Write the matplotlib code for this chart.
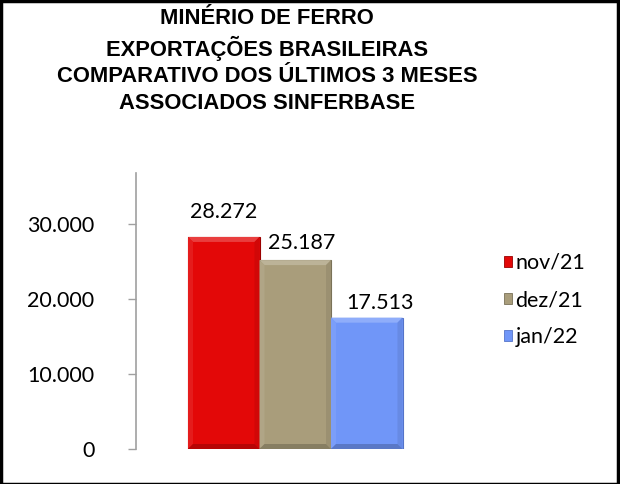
import numpy as np
import matplotlib.pyplot as plt
from matplotlib.patches import Patch, Rectangle, Polygon
from matplotlib.colors import to_rgb

# Data
months = ["nov/21", "dez/21", "jan/22"]
values = [28272, 25187, 17513]
value_labels = ["28.272", "25.187", "17.513"]
colors = ["#E30808", "#A99D7B", "#7096F8"]
edge_colors = ["#9A0000", "#7A7258", "#5574C8"]
yticks = [0, 10000, 20000, 30000]
ytick_labels = ["0", "10.000", "20.000", "30.000"]

title = ("MINÉRIO DE FERRO\nEXPORTAÇÕES BRASILEIRAS\n"
         "COMPARATIVO DOS ÚLTIMOS 3 MESES\nASSOCIADOS SINFERBASE")


def shade(c, f):
    r = np.array(to_rgb(c))
    if f > 0:
        return tuple(r + (1 - r) * f)
    return tuple(r * (1 + f))


W, H = 620, 484
fig = plt.figure(figsize=(W / 100, H / 100), dpi=100)

# axes placed in pixel terms
ax_left, ax_right, ax_bottom, ax_top = 136, 470, 449, 173
ax = fig.add_axes([ax_left / W, (H - ax_bottom) / H,
                   (ax_right - ax_left) / W, (ax_bottom - ax_top) / H])

bar_w = 71.5  # px per bar
ymax = 36800
x = np.arange(len(values))
x0 = -0.5 - (188 - ax_left) / bar_w
ax.set_xlim(x0, x0 + (ax_right - ax_left) / bar_w)
ax.set_ylim(0, ymax)

bars = ax.bar(x, values, width=1.0, color=colors, edgecolor=edge_colors, linewidth=0.8, zorder=2)

# bevel look: light top/left, dark bottom/right (kept subtle)
bx = 5 / bar_w
by = 5 * ymax / (ax_bottom - ax_top)
for b, c in zip(bars, colors):
    l, r = b.get_x(), b.get_x() + b.get_width()
    t = b.get_height()
    faces = [
        ([(l, t), (r, t), (r - bx, t - by), (l + bx, t - by)], 0.22),
        ([(l, 0), (l, t), (l + bx, t - by), (l + bx, by)], 0.08),
        ([(r, 0), (r, t), (r - bx, t - by), (r - bx, by)], -0.08),
        ([(l, 0), (r, 0), (r - bx, by), (l + bx, by)], -0.2),
    ]
    for pts, f in faces:
        ax.add_patch(Polygon(pts, closed=True, facecolor=shade(c, f), edgecolor="none", zorder=3))

# small label offsets (px) as in the original
label_dx = [0, 6, 13]
label_dy = [25, 17, 15]
for xi, v, lab, dx, dy in zip(x, values, value_labels, label_dx, label_dy):
    ax.annotate(lab, (xi, v), xytext=(dx * 0.72, dy * 0.72), textcoords="offset points",
                ha="center", va="center", fontsize=15.5, family="Lato", color="#000000")

ax.set_yticks(yticks)
ax.set_yticklabels(ytick_labels, family="Lato", fontsize=15.5)
ax.tick_params(axis="y", length=6, width=1, color="#A0A0A0", pad=24)
ax.set_xticks([])
for s in ["top", "right", "bottom"]:
    ax.spines[s].set_visible(False)
ax.spines["left"].set_color("#A0A0A0")
ax.spines["left"].set_linewidth(1.2)

handles = [Patch(facecolor=c, edgecolor=e, linewidth=0.6) for c, e in zip(colors, edge_colors)]
fig.legend(handles, months, loc="center left", bbox_to_anchor=(495 / W, 1 - 300 / H),
           frameon=False, prop={"family": "Lato", "size": 15.5},
           handlelength=0.4, handleheight=0.4, handletextpad=0.15,
           labelspacing=0.8, borderaxespad=0)

fig.text(267 / W, 1 - 8 / H, title, ha="center", va="top", fontsize=15.8,
         fontweight="bold", family="Liberation Sans", linespacing=1.34)

# outer black border
fig.patches.append(Rectangle((0.5 / W, 0.5 / H), 1 - 3 / W, 1 - 1 / H, transform=fig.transFigure,
                             fill=False, edgecolor="black", linewidth=2.5))

fig.savefig("out.png", dpi=100)
